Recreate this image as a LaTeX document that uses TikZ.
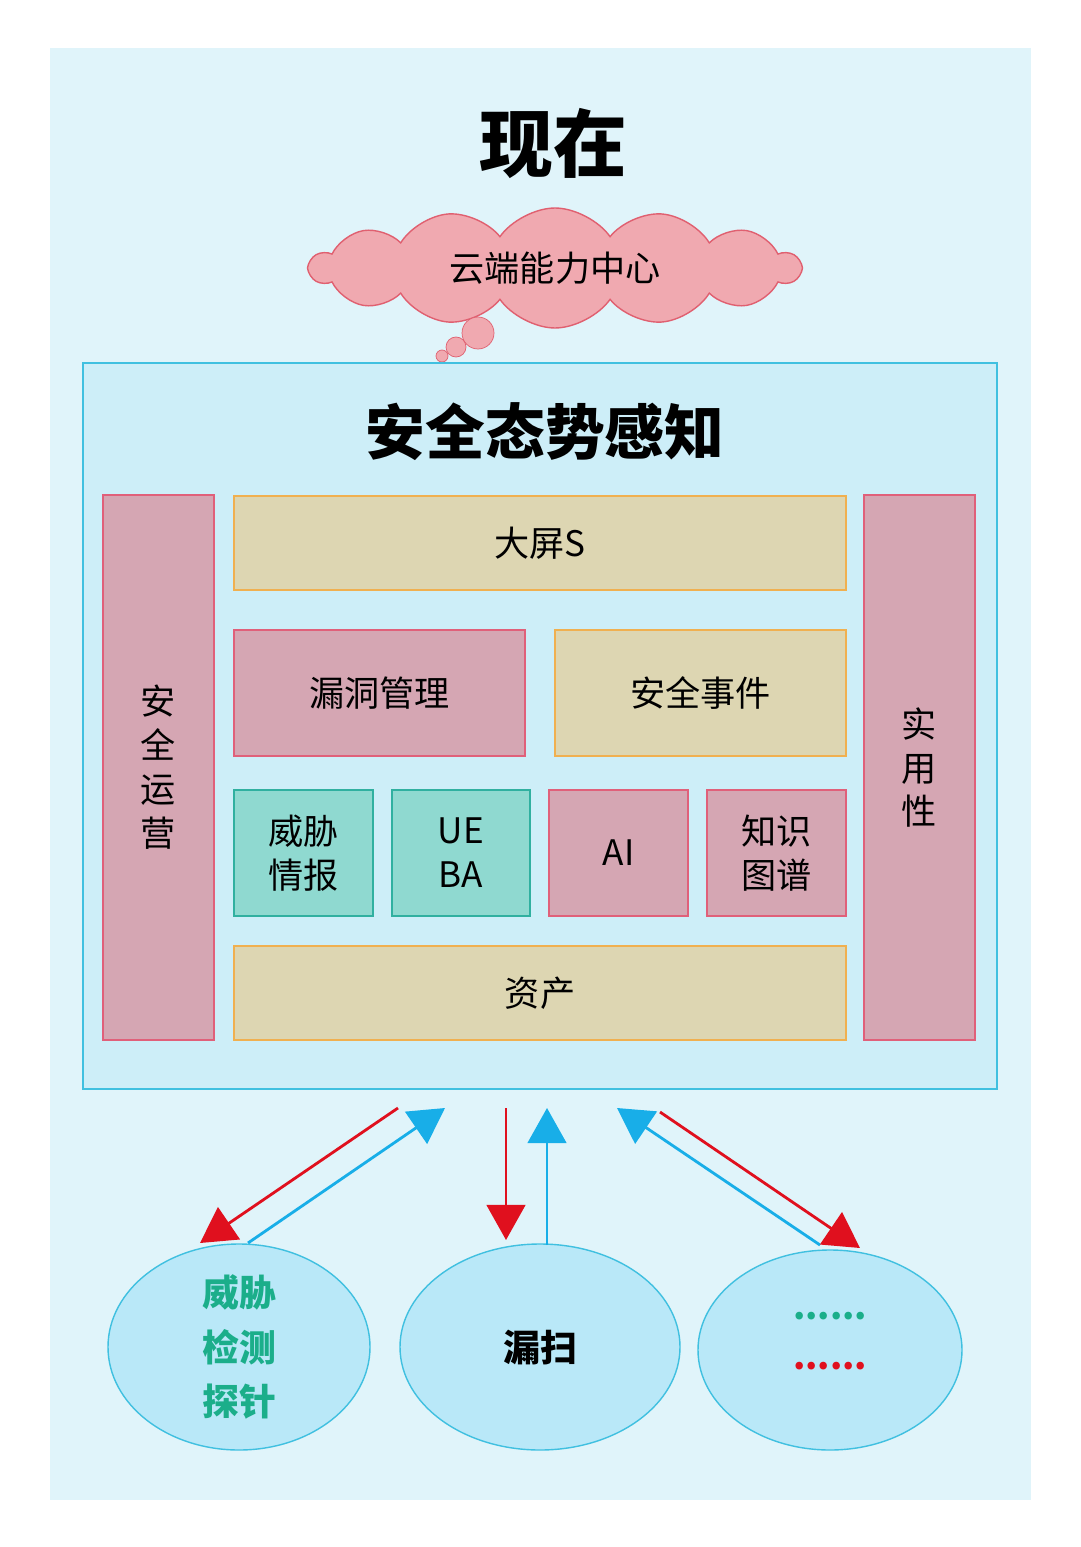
\documentclass[tikz,border=0pt]{standalone}
\usepackage{fontspec}
\setmainfont{Noto Sans CJK SC}
\usetikzlibrary{shapes.geometric,shapes.symbols,arrows.meta}
\definecolor{bgc}{HTML}{E0F4FA}
\definecolor{innerc}{HTML}{CDEEF8}
\definecolor{cyb}{HTML}{40C0E0}
\definecolor{pinkf}{HTML}{D5A6B3}
\definecolor{pinkd}{HTML}{E0607A}
\definecolor{tanf}{HTML}{DDD6B2}
\definecolor{tand}{HTML}{F0B050}
\definecolor{tealf}{HTML}{8FD9D0}
\definecolor{teald}{HTML}{30B0A0}
\definecolor{cloudf}{HTML}{F0A9B0}
\definecolor{cloudd}{HTML}{E06070}
\definecolor{ellf}{HTML}{B9E8F8}
\definecolor{redA}{HTML}{E0101E}
\definecolor{bluA}{HTML}{18AEE8}
\definecolor{grn}{HTML}{1BAE8A}
\tikzset{
 bx/.style={draw, line width=0.8pt, inner sep=0pt, font=\fontsize{20}{25}\selectfont, align=center},
 pbox/.style={bx, fill=pinkf, draw=pinkd},
 tbox/.style={bx, fill=tanf, draw=tand},
 gbox/.style={bx, fill=tealf, draw=teald},
 ell/.style={ellipse, draw=cyb, fill=ellf, line width=0.8pt, inner sep=0pt, align=center},
 ra/.style={draw=redA, line width=1.6pt, -{Triangle[length=20pt,width=22pt]}},
 ba/.style={draw=bluA, line width=1.6pt, -{Triangle[length=20pt,width=22pt]}},
}
\newcommand{\rectnode}[5]{\node[#1, minimum width={(#4-#2)*0.02cm}, minimum height={(#5-#3)*0.02cm}] at ({(#2+#4)/2},{(#3+#5)/2})}
\begin{document}
\begin{tikzpicture}[x=0.02cm,y=-0.02cm]
\useasboundingbox (0,0) rectangle (1080,1547);
\fill[white] (0,0) rectangle (1080,1547);
\fill[bgc] (50,48) rectangle (1031,1500);
\node[font=\fontsize{42}{46}\selectfont\bfseries] (title) at (553,143) {现在};
\node[cloud, cloud puffs=14, cloud puff arc=110, aspect=4, draw=cloudd, fill=cloudf, line width=0.8pt, minimum width=490*0.02cm, minimum height=120*0.02cm, font=\fontsize{20}{24}\selectfont] (cloud) at (555,268) {云端能力中心};
\node[circle, draw=cloudd, fill=cloudf, minimum size=32*0.02cm, inner sep=0pt] (b1) at (478,333) {};
\node[circle, draw=cloudd, fill=cloudf, minimum size=20*0.02cm, inner sep=0pt] (b2) at (456,347) {};
\node[circle, draw=cloudd, fill=cloudf, minimum size=12*0.02cm, inner sep=0pt] (b3) at (442,356) {};
\draw[cyb, fill=innerc, line width=0.8pt] (83,363) rectangle (997,1089);
\node[font=\fontsize{34}{38}\selectfont\bfseries] (sub) at (545,432) {安全态势感知};
\rectnode{pbox}{103}{495}{214}{1040} (yy) {安\\全\\运\\营};
\rectnode{pbox}{864}{495}{975}{1040} (syx) {实\\用\\性};
\rectnode{tbox}{234}{496}{846}{590} (dp) {大屏S};
\rectnode{pbox}{234}{630}{525}{756} (ld) {漏洞管理};
\rectnode{tbox}{555}{630}{846}{756} (sj) {安全事件};
\rectnode{gbox}{234}{790}{373}{916} (wx) {威胁\\情报};
\rectnode{gbox}{392}{790}{530}{916} (ue) {UE\\BA};
\rectnode{pbox}{549}{790}{688}{916} (ai) {AI};
\rectnode{pbox}{707}{790}{846}{916} (zs) {知识\\图谱};
\rectnode{tbox}{234}{946}{846}{1040} (zc) {资产};
\node[ell, minimum width=262*0.02cm, minimum height=206*0.02cm, font=\fontsize{21}{31}\selectfont\bfseries, text=grn] (e1) at (239,1347) {威胁\\检测\\探针};
\node[ell, minimum width=280*0.02cm, minimum height=206*0.02cm, font=\fontsize{21}{26}\selectfont\bfseries] (e2) at (540,1347) {漏扫};
\node[ell, minimum width=264*0.02cm, minimum height=200*0.02cm] (e3) at (830,1350) {};
\node[text=grn, font=\fontsize{20}{20}\selectfont\bfseries] (d1) at (830,1316) {......};
\node[text=redA, font=\fontsize{20}{20}\selectfont\bfseries] (d2) at (830,1366) {......};
\coordinate (a1s) at (398,1108); \coordinate (a2e) at (445,1108);
\coordinate (a3s) at (506,1108); \coordinate (a4e) at (547,1108);
\coordinate (a5e) at (617,1108); \coordinate (a6s) at (660,1112);
\draw[ra] (a1s) -- (200,1243);
\draw[ba] (248,1243) -- (a2e);
\draw[ra] (a3s) -- (506,1240);
\draw[ba] (547,1245) -- (a4e);
\draw[ba] (820,1245) -- (a5e);
\draw[ra] (a6s) -- (860,1248);
\end{tikzpicture}
\end{document}
